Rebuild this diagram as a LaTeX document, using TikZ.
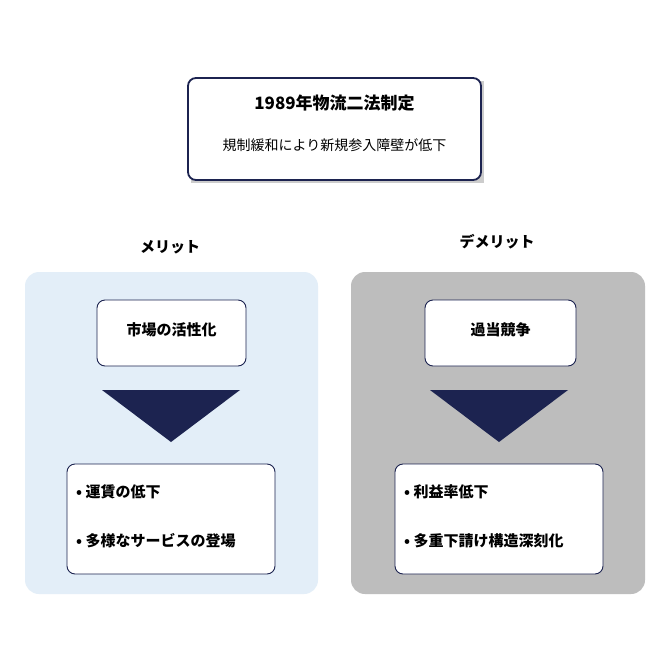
\documentclass[tikz,border=0pt]{standalone}
\usepackage{fontspec}
\setmainfont{Noto Sans CJK JP}
\newfontfamily\jpb{Noto Sans CJK JP}[BoldFont={* Bold}]
\definecolor{navy}{HTML}{1C2350}
\definecolor{lblue}{HTML}{E3EEF8}
\definecolor{pgray}{HTML}{BDBDBD}
\begin{document}
\begin{tikzpicture}[x=1pt,y=-1pt,
  card/.style={draw=navy,fill=white,rounded corners=8pt,line width=0.9pt},
  panel/.style={rounded corners=14pt,draw=none},
  tri/.style={fill=navy,draw=none},
  lbl/.style={font=\bfseries\fontsize{15}{18}\selectfont,inner sep=0pt}]
\useasboundingbox (0,0) rectangle (670,670);
\fill[white] (0,0) rectangle (670,670);
\fill[gray!40] (191,81) rectangle (484,183);
\draw[card,line width=1.8pt] (188,78) rectangle (481,180);
\node[inner sep=0pt,font=\bfseries\fontsize{17}{20}\selectfont] (t) at (334.5,103) {1989年物流二法制定};
\node[inner sep=0pt,font=\fontsize{14}{17}\selectfont] (s) at (334.5,145) {規制緩和により新規参入障壁が低下};
\node[lbl] (m) at (170,247) {メリット};
\node[lbl] (d) at (497,242) {デメリット};
\path[panel,fill=lblue] (25,272) rectangle (318,594);
\path[panel,fill=pgray] (351,272) rectangle (645,594);
\draw[card] (97,300) rectangle (246,366);
\node[lbl] (a) at (171.5,330) {市場の活性化};
\draw[card] (425,300) rectangle (576,366);
\node[lbl] (b) at (500.5,330) {過当競争};
\fill[tri] (102,390) -- (240,390) -- (171,442) -- cycle;
\fill[tri] (430,390) -- (568,390) -- (499,442) -- cycle;
\draw[card] (67,464) rectangle (275,574);
\node[lbl,anchor=west] (l1) at (76,492) {• 運賃の低下};
\node[lbl,anchor=west] (l2) at (76,541) {• 多様なサービスの登場};
\draw[card] (395,464) rectangle (603,574);
\node[lbl,anchor=west] (r1) at (404,492) {• 利益率低下};
\node[lbl,anchor=west] (r2) at (404,541) {• 多重下請け構造深刻化};
\end{tikzpicture}
\end{document}
